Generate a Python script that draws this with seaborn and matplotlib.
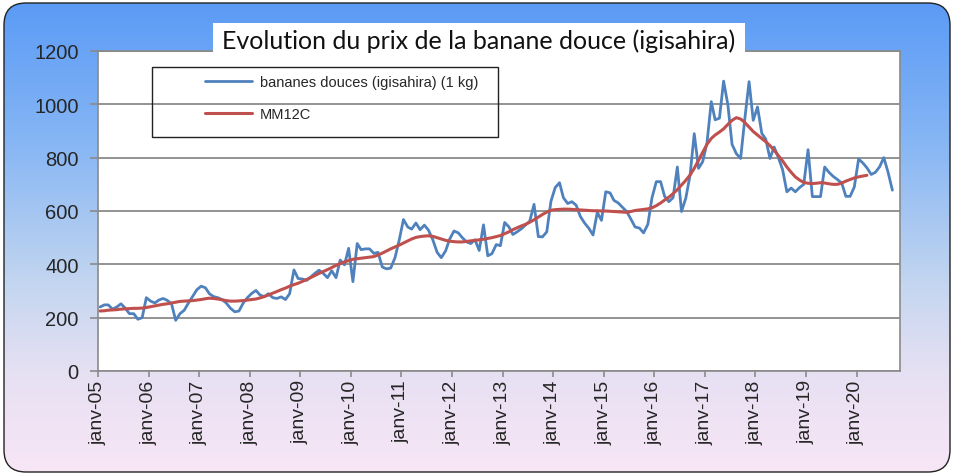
import numpy as np
import pandas as pd
import matplotlib
matplotlib.use("Agg")
import matplotlib.pyplot as plt
from matplotlib.patches import FancyBboxPatch, Rectangle
from matplotlib.colors import LinearSegmentedColormap
from matplotlib.lines import Line2D
import seaborn as sns

# ---- texts ----
chart_title = "Evolution du prix de la banane douce (igisahira)"
price_label = "bananes douces (igisahira) (1 kg)"
ma_label = "MM12C"

# ---- monthly price (FRW / kg), from January 2005 ----
p2005 = [240, 248, 248, 232, 240, 252, 236, 215, 215, 194, 200, 275]
p2006 = [262, 255, 266, 272, 265, 252, 190, 215, 228, 255, 280, 305]
p2007 = [318, 312, 290, 279, 275, 268, 255, 235, 222, 225, 255, 275]
p2008 = [291, 302, 285, 279, 290, 275, 272, 278, 268, 290, 379, 347]
p2009 = [345, 340, 352, 366, 378, 366, 350, 376, 350, 416, 398, 460]
p2010 = [335, 478, 455, 458, 458, 441, 445, 390, 383, 386, 425, 490]
p2011 = [568, 540, 532, 555, 530, 547, 528, 492, 445, 425, 450, 495]
p2012 = [525, 518, 500, 484, 478, 492, 452, 548, 432, 440, 474, 470]
p2013 = [557, 540, 512, 522, 533, 548, 562, 625, 504, 503, 522, 636]
p2014 = [688, 706, 650, 628, 635, 622, 580, 555, 535, 510, 595, 565]
p2015 = [672, 668, 640, 630, 614, 598, 570, 540, 536, 518, 550, 650]
p2016 = [710, 710, 655, 635, 650, 765, 598, 648, 735, 890, 760, 785]
p2017 = [855, 1010, 942, 948, 1087, 998, 850, 815, 797, 945, 1085, 940]
p2018 = [990, 891, 870, 797, 840, 800, 755, 672, 686, 672, 688, 700]
p2019 = [830, 654, 654, 654, 765, 745, 730, 718, 705, 655, 655, 690]
p2020 = [795, 780, 762, 737, 745, 766, 800, 745, 678]

# ---- centred 12-month moving average ----
ma2005 = [225, 226, 228, 229, 230, 232, 233, 234, 235, 235, 236, 238]
ma2006 = [241, 244, 247, 250, 252, 255, 258, 261, 262, 263, 264, 266]
ma2007 = [268, 271, 273, 272, 270, 267, 264, 262, 262, 263, 264, 266]
ma2008 = [268, 270, 274, 279, 285, 292, 298, 305, 311, 318, 324, 329]
ma2009 = [336, 343, 350, 358, 366, 373, 380, 388, 396, 403, 409, 414]
ma2010 = [419, 421, 423, 425, 427, 429, 435, 442, 450, 458, 465, 472]
ma2011 = [480, 488, 495, 501, 504, 506, 507, 505, 500, 495, 490, 487]
ma2012 = [485, 484, 484, 486, 488, 490, 492, 494, 497, 500, 504, 508]
ma2013 = [515, 522, 530, 537, 544, 550, 558, 567, 577, 587, 596, 603]
ma2014 = [605, 606, 607, 607, 606, 605, 604, 603, 602, 601, 601, 600]
ma2015 = [600, 599, 598, 597, 596, 595, 598, 602, 604, 606, 608, 612]
ma2016 = [620, 630, 641, 652, 665, 680, 697, 715, 735, 760, 790, 820]
ma2017 = [850, 872, 885, 896, 908, 925, 940, 950, 945, 932, 915, 898]
ma2018 = [885, 872, 860, 845, 828, 808, 788, 765, 745, 728, 716, 707]
ma2019 = [704, 703, 704, 706, 705, 702, 700, 700, 705, 712, 718, 724]
ma2020 = [728, 731, 734]

tick_years = list(range(2005, 2021))
tick_labels = ["janv-05", "janv-06", "janv-07", "janv-08", "janv-09", "janv-10",
               "janv-11", "janv-12", "janv-13", "janv-14", "janv-15", "janv-16",
               "janv-17", "janv-18", "janv-19", "janv-20"]
y_ticks = [0, 200, 400, 600, 800, 1000, 1200]

price = (p2005 + p2006 + p2007 + p2008 + p2009 + p2010 + p2011 + p2012 +
         p2013 + p2014 + p2015 + p2016 + p2017 + p2018 + p2019 + p2020)
ma12 = (ma2005 + ma2006 + ma2007 + ma2008 + ma2009 + ma2010 + ma2011 + ma2012 +
        ma2013 + ma2014 + ma2015 + ma2016 + ma2017 + ma2018 + ma2019 + ma2020)

# points sit in the middle of each month
months = pd.date_range("2005-01-01", periods=len(price), freq="MS") + pd.Timedelta(days=15)
df_price = pd.DataFrame({"date": months, "value": price})
df_ma = pd.DataFrame({"date": months[:len(ma12)], "value": ma12})

BLUE = "#4F81BD"
RED = "#C0504D"
GRID = "#8A8A8A"

sns.set_style("white")
plt.rcParams["font.family"] = ["Liberation Sans", "DejaVu Sans"]

W, H = 955, 477
fig = plt.figure(figsize=(W / 100, H / 100), dpi=100)
fig.patch.set_facecolor("white")

# ---- rounded gradient panel behind the chart ----
bg = fig.add_axes([0, 0, 1, 1], zorder=-5)
bg.set_xlim(0, W)
bg.set_ylim(0, H)
bg.axis("off")
grad_cmap = LinearSegmentedColormap.from_list(
    "panel",
    [(0.0, "#F8E6F6"), (0.22, "#E6E0F3"), (0.40, "#C4D6F0"),
     (0.70, "#86B6F4"), (1.0, "#5A9AF6")])
grad = np.linspace(0, 1, 256).reshape(-1, 1)
img = bg.imshow(grad, extent=[0, W, 0, H], origin="lower", aspect="auto",
                cmap=grad_cmap, zorder=0)
panel = FancyBboxPatch((4, 4), W - 9, H - 8,
                       boxstyle="round,pad=0,rounding_size=22",
                       facecolor="none", edgecolor="#222222", lw=1.0, zorder=2)
bg.add_patch(panel)
img.set_clip_path(panel)

# ---- plot area ----
ax = fig.add_axes([98 / W, 105 / H, 802 / W, 320 / H])
ax.set_facecolor("white")

sns.lineplot(data=df_price, x="date", y="value", ax=ax, color=BLUE,
             linewidth=2.0, label=price_label, zorder=3)
sns.lineplot(data=df_ma, x="date", y="value", ax=ax, color=RED,
             linewidth=2.2, label=ma_label, zorder=4)

ax.set_ylim(0, 1200)
ax.set_xlim(pd.Timestamp("2005-01-01"), pd.Timestamp("2020-11-10"))
ax.set_yticks(y_ticks)
ax.set_yticklabels([str(v) for v in y_ticks],
                   family=["Liberation Sans Narrow", "Liberation Sans"],
                   fontsize=14.5)
ax.set_xticks([pd.Timestamp(f"{y}-01-01") for y in tick_years])
ax.set_xticklabels(tick_labels, rotation=90, fontsize=14)
ax.set_xlabel("")
ax.set_ylabel("")

ax.grid(axis="y", color=GRID, lw=1.3)
ax.grid(axis="x", visible=False)
for s in ax.spines.values():
    s.set_color(GRID)
    s.set_linewidth(1.2)
ax.tick_params(axis="y", length=6, width=1.2, color=GRID, pad=8, left=True)
ax.tick_params(axis="x", length=4, width=1.2, color=GRID, pad=2, bottom=True)

# ---- legend ----
handles = [Line2D([], [], color=BLUE, lw=2.0), Line2D([], [], color=RED, lw=2.2)]
ax.legend(handles, [price_label, ma_label], loc="upper left",
          bbox_to_anchor=((205 - 98) / 802, (372 - 76) / 320),
          frameon=False, fontsize=10.5, handlelength=3.2, handletextpad=0.55,
          labelspacing=1.25, borderpad=0, borderaxespad=0)
ax.add_patch(Rectangle(((152 - 98) / 802, (372 - 138) / 320),
                       (498 - 152) / 802, 70 / 320, transform=ax.transAxes,
                       facecolor="none", edgecolor="#222222", lw=1.0, zorder=6))

# ---- title box ----
fig.patches.append(Rectangle((213 / W, (H - 55) / H), 532 / W, 31 / H,
                             transform=fig.transFigure, facecolor="white",
                             edgecolor="none", zorder=10))
fig.text(479 / W, (H - 41) / H, chart_title, ha="center", va="center",
         fontsize=18, family=["Lato", "DejaVu Sans"], color="#111111", zorder=11)

fig.savefig("out.png", dpi=100, facecolor="white")
